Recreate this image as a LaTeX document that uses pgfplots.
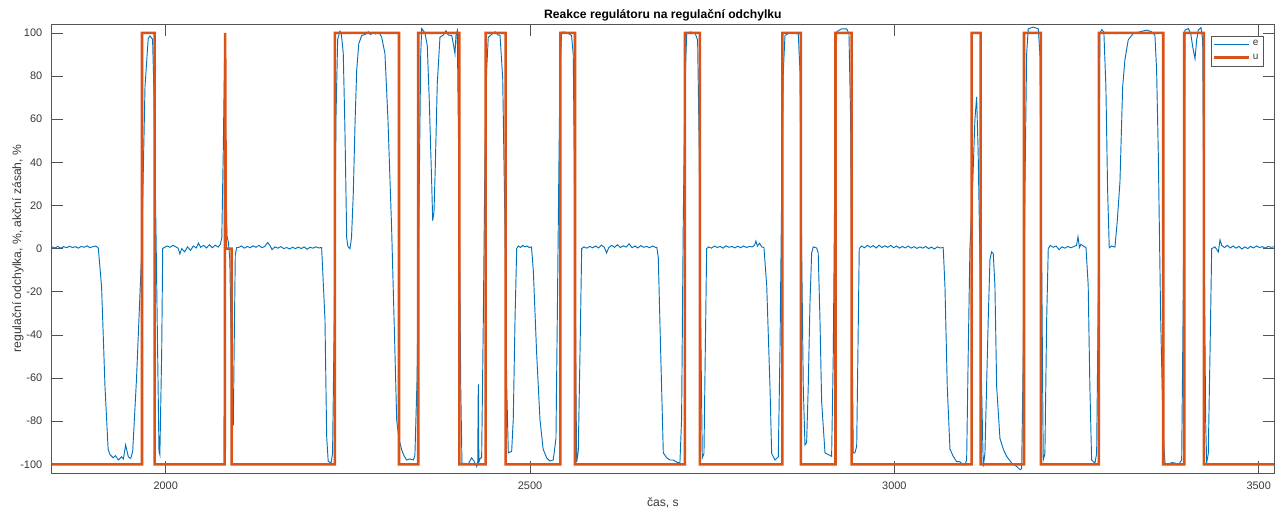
\documentclass[border=0pt]{standalone}
\usepackage{fontspec}
\setmainfont{Liberation Sans}
\usepackage{pgfplots}
\pgfplotsset{compat=1.18}
\definecolor{mblue}{rgb}{0,0.447,0.741}
\definecolor{morange}{rgb}{0.85,0.325,0.098}
\definecolor{txtgray}{rgb}{0.22,0.22,0.22}
\definecolor{axgray}{rgb}{0.33,0.33,0.33}
\begin{document}
\begin{tikzpicture}
\useasboundingbox (-38.8pt,-27.75pt) rectangle (923.45pt,354.7pt);
\begin{axis}[
  at={(0,0)}, anchor=south west,
  scale only axis, width=916.7pt, height=336.5pt,
  xmin=1843.6, xmax=3521, ymin=-104, ymax=104,
  xtick={2000,2500,3000,3500},
  ytick={-100,-80,...,100},
  tick align=inside, tick pos=both,
  major tick length=8.6pt,
  axis line style={draw=axgray, line width=0.5pt},
  major tick style={draw=axgray, line width=0.5pt},
  /pgf/number format/assume math mode=true,
  /pgf/number format/set thousands separator={},
  tick label style={font=\fontsize{8.2}{9}\selectfont, text=txtgray},
  xticklabel style={anchor=base, yshift=-12.2pt},
  yticklabel style={anchor=east, xshift=-3.6pt},
  title={Reakce regulátoru na regulační odchylku},
  title style={at={(axis description cs:0.5,1)}, anchor=base, yshift=-1.5pt, font=\bfseries\fontsize{9.1}{10}\selectfont},
  xlabel={čas, s},
  xlabel style={at={(axis description cs:0.5,0)}, anchor=base, yshift=-25pt, font=\fontsize{9.1}{10}\selectfont, text=txtgray},
  ylabel={regulační odchylka, \%, akční zásah, \%},
  ylabel style={at={(axis description cs:0,0.5)}, anchor=base, yshift=23pt, font=\fontsize{9.1}{10}\selectfont, text=txtgray},
  legend style={at={(1,1)}, anchor=north east, xshift=-8pt, yshift=-8.5pt,
    draw=axgray, font=\fontsize{7.5}{8}\selectfont, text=txtgray,
    inner sep=1.5pt, row sep=0.5pt, cells={anchor=west}},
  legend image code/.code={\draw[#1] (0pt,0pt) -- (26pt,0pt);},
]
\addplot[mblue, line width=0.7pt] coordinates {
(1843.6,0.8)(1848,0.3)(1852,1.0)(1856,0.2)(1860,0.9)(1864,0.4)(1868,1.1)(1872,0.5)(1876,0.9)(1880,0.2)(1884,1.0)(1888,0.6)(1892,1.3)(1896,0.4)(1900,0.9)(1904,1.2)(1907.5,0.3)
(1912,-17.6)(1916.7,-64)(1921,-93)(1923.5,-95.5)(1928,-97)(1931,-96)(1935,-98)(1939.6,-96.5)(1942,-97.5)(1945,-91)(1948.7,-96.5)(1952,-97.3)(1954.7,-94)
(1960,-60)(1967,-2)(1971.6,75)(1976,97.4)(1978.5,98.6)(1982,97)(1984,71)(1987,0)(1990.8,-94)(1992,-95.5)(1994.5,-48)(1995.9,0)
(1998,0.5)(2002,1.2)(2006,0.6)(2010,1.5)(2014,0.8)(2017,0.2)(2019.5,-2.5)(2022,0)(2026,-1.5)(2030,0.8)(2034,-0.8)(2038,1.2)(2042,0.3)(2045,2.5)(2048,0.6)(2052,1.5)(2056,0.3)(2060,1.8)(2064,0.4)(2068,1.6)(2072,0.7)(2075,2)
(2077,5)(2079,45)(2081,95)(2082.5,40)(2084,6)(2086,3)(2088,-5)(2090,-45)(2092.8,-82)(2094,-45)(2095.5,-3)(2097.4,0.5)
(2100,0.5)(2104,1.2)(2108,0.2)(2112,1.0)(2116,0.4)(2120,1.3)(2124,0.6)(2128,1.5)(2132,0.4)(2136,1.0)(2140,2.8)(2143,1.5)(2146,-0.5)(2150,0.8)(2154,0.2)(2158,0.9)(2162,0)(2166,0.5)(2170,-0.2)(2174,0.6)(2178,0)(2182,0.7)(2186,0)(2190,0.8)(2194,-0.3)(2198,0.6)(2202,0.2)(2206,0.8)(2210,0.3)(2214,0.5)
(2218.6,-33)(2220.9,-87)(2223,-98.5)(2226.9,-99.5)(2229,-95)(2231.4,-31)(2233.7,61)(2236,97)(2239.2,100.8)(2241,99.5)(2243.7,90.4)(2246,55)(2248.4,5)(2250,1)(2252.9,0)(2255,5)(2257.4,25)(2260,60)(2262.1,82.6)(2265,95)(2269,98.8)
(2275,99.5)(2278,100.5)(2281,99.2)(2285,100.2)(2288,99.5)(2291,100.3)(2294,99.5)(2296.4,98)(2300.9,90.4)(2305,60)(2310,10)(2314,-40)(2317,-79.4)(2320,-88)(2323.9,-93.3)(2327,-96)(2330.7,-98)(2335,-97.5)(2339.8,-98)(2342,-96)(2345,-60)(2348,30)(2350,90)(2351.3,102)
(2355.8,100)(2359,94)(2361.7,69)(2365,31)(2366.4,13)(2368.2,17)(2370,38)(2372.7,76.5)(2376.4,98)(2381,99)(2384.6,101)(2387.8,99)(2392.5,98.8)(2394.7,95)(2397,90.4)(2398.4,99)(2400.2,101)(2403,13)(2404.9,-64)(2406.6,-99.6)
(2410,-99.5)(2415,-100)(2419.9,-97)(2423,-98.5)(2426.8,-101)(2428.2,-99)(2429,-63)(2429.8,-99)(2432,-97)(2433.6,-97)(2435.9,-33)(2438.2,44.6)(2440.5,83)(2442.7,98)(2448,99.5)(2452,100.5)(2456,99)(2458.8,99)
(2462.5,79)(2465.6,11)(2468,-64)(2470.2,-94.7)(2474.8,-94)(2477,-79)(2479.4,-33)(2481.7,0)
(2484,1.2)(2487,0.5)(2490,1.5)(2493,0.8)(2496,1.2)(2499,0.5)(2502,0.8)
(2504.5,-10)(2509,-48)(2513.6,-79)(2518,-93)(2522.8,-97)(2527.4,-98.5)(2531.9,-98)(2535.6,-88)(2537.4,-33)(2539.3,28)(2541.1,82)(2543.4,100.4)(2548,100.4)(2552.5,99.7)(2557,98.8)(2559.3,90)(2560.7,44)(2562,-17)(2563,-63)(2564,-99)(2566.2,-94)(2568.6,-48)(2570.9,0)
(2574,0.8)(2578,0.2)(2582,1.0)(2586,0.4)(2590,1.2)(2594,0.3)(2598,1.6)(2602,0.6)(2605,-2)(2608,0.4)(2612,1.5)(2616,0.6)(2620,1.8)(2624,0.5)(2628,1.3)(2632,0.7)(2636,2.2)(2640,0.4)(2644,1.2)(2648,0.3)(2652,1.4)(2656,0.6)(2660,1.0)(2664,0.4)(2668,1.2)(2672,0.6)(2674,0.5)
(2676,-4)(2679.3,-48)(2682.9,-94.7)(2687.5,-97)(2692,-98)(2696.6,-98)(2701.2,-99)(2705.7,-99.4)(2708,-79)(2710.3,13)(2712.6,75)(2715,99.7)(2719.5,100.4)(2726.4,100)(2730,96.6)(2732.3,44)(2734.2,-33)(2736.4,-97)(2738.7,-95)(2740.5,-48)(2742.4,0)
(2745,0.8)(2749,0.2)(2753,1.2)(2757,0.5)(2761,1.0)(2765,0.2)(2769,1.3)(2773,0.6)(2777,1.0)(2781,0.3)(2785,1.1)(2789,0.4)(2793,1.2)(2797,0.5)(2801,1.0)(2805,0.8)(2808,1.5)(2810,3.5)(2812,1.2)(2815,2.5)(2818,0.8)(2821,0.5)
(2824.8,-17)(2829.3,-64)(2831.6,-95)(2836.1,-98)(2840.7,-96.5)(2843,-48)(2845.4,28)(2847.6,82)(2849.9,98.8)(2854.4,99.7)(2859,100)(2863.6,99.7)(2868.1,99.7)(2870.5,82)(2872.8,-2)(2875,-64)(2877.3,-91)(2879.6,-90)(2881.8,-64)(2884.2,-25)(2886.5,-2)(2888.7,0.8)(2893.3,0.3)(2895.5,-2)
(2897.9,-33)(2900.2,-71)(2904.8,-94.7)(2909.3,-95.5)(2913.9,-96.3)(2916.2,-48)(2918.5,44.6)(2920.8,100.4)(2923,101)(2927.7,101.9)(2934.5,101.9)(2937.7,99.7)(2940,59.5)(2941.8,-33)(2943.6,-94.7)(2945.9,-94.7)(2948.3,-91.6)(2950,-48)(2951.8,0)
(2955,1.2)(2959,0.4)(2963,1.5)(2967,0.6)(2971,1.4)(2975,0.3)(2979,1.6)(2983,0.5)(2987,1.3)(2991,0.6)(2995,1.5)(2999,0.4)(3003,1.2)(3007,0.2)(3011,1.0)(3015,0.3)(3019,1.2)(3023,0.2)(3027,0.9)(3031,0.1)(3035,0.8)(3039,0.2)(3043,1.0)(3047,0)(3051,0.7)(3055,-0.2)(3059,0.8)(3063,0.3)(3067,0.5)
(3069.4,-17)(3072.6,-64)(3076.3,-93)(3080.8,-96.3)(3085.5,-98.8)(3090,-98.8)(3094.6,-100.3)(3096.9,-100.3)(3099.2,-98)(3101.4,-48)(3103.7,0)(3107.4,29)(3110.5,59.5)(3112.9,70.3)(3115,44.6)(3117.3,-1.5)(3119.7,-64)(3122,-101)(3124.3,-95)(3128.8,-33)(3131.2,-5)(3133.5,-1.5)(3135.7,-2.3)(3138,-17)(3140.4,-64)(3144.9,-88)(3149.5,-93)(3154.1,-96.3)(3161,-99.4)(3167.8,-101)(3172.3,-102.5)(3174.7,-102)
(3176.9,-48)(3179.2,28)(3181.5,90)(3183.7,101.9)(3190.6,102.7)(3197.5,101.9)(3199.8,90)(3202.1,-2)(3204.3,-98)(3206.6,-95)(3209,-33)(3211.2,0)
(3214,1.5)(3218,0.6)(3222,1.2)(3226,-0.5)(3230,0.8)(3234,0.2)(3238,1.0)(3242,0.4)(3246,0.9)(3250,1.5)(3252,5.5)(3254,0.5)(3256,2)(3260,1.0)(3263,0.5)
(3266,-17)(3268.3,-64)(3270.7,-98)(3275.3,-99.4)(3277.6,-95)(3280,-17)(3282.1,99.7)(3284.4,101.5)(3287.5,100.5)(3290.3,75)(3292.6,28)(3294.9,0.4)(3298.1,1.2)(3302.7,0.7)(3305.9,12.7)(3309.6,31)(3313.3,75)(3316.4,87.6)(3321,96.8)(3327.8,99.7)(3337,100.5)(3346.2,101.3)(3353.1,100.5)(3357.6,98.9)
(3359.9,82.6)(3362.2,44)(3365.5,-33)(3369,-87)(3371.4,-99.4)(3375.9,-100.3)(3380.6,-99.2)(3385.1,-99.4)(3389.7,-100.3)(3394.3,-98)(3396.6,-17)(3398.8,101.3)(3403.4,102)(3406.7,99.7)(3409.5,93.5)(3412.6,88)(3414.9,96.8)(3417.1,101.3)(3420.8,102.5)(3423.1,96.8)(3424.9,13)(3427.2,-79.5)(3428.6,-99.4)(3430.8,-95)(3433.2,-48)(3435.5,0)
(3440,0.8)(3444.6,-1.5)(3446.9,4)(3449.2,1.5)(3453,0.5)(3457,1.5)(3461,0.3)(3465,1.2)(3469,0.2)(3473,1.0)(3477,-0.2)(3481,0.8)(3485,0)(3489,1.0)(3493,0.3)(3497,1.2)(3501,0.5)(3505,0.9)(3509,0.2)(3513,1.0)(3517,0.6)(3521,0.8)
};
\addlegendentry{e}
\addplot[morange, line width=1.9pt, line join=miter] coordinates {
(1843.6,-100)(1967.5,-100)(1967.5,100)(1984.9,100)(1984.9,-100)(2081,-100)(2081.6,100)(2082.5,0)(2090.6,0)(2090.6,-100)
(2232.3,-100)(2232.3,100)(2320.2,100)(2320.2,-100)(2346.6,-100)(2346.6,100)(2402.9,100)(2402.9,-100)(2439.1,-100)(2439.1,100)(2466.6,100)(2466.6,-100)
(2541.5,-100)(2541.5,100)(2561.7,100)(2561.7,-100)(2712.6,-100)(2712.6,100)(2733.2,100)(2733.2,-100)(2846.2,-100)(2846.2,100)(2871.8,100)(2871.8,-100)
(2919.2,-100)(2919.2,100)(2941.4,100)(2941.4,-100)(3106.1,-100)(3106.1,100)(3118.4,100)(3118.4,-100)(3177.9,-100)(3177.9,100)(3201.2,100)(3201.2,-100)
(3280.8,-100)(3280.8,100)(3369,100)(3369,-100)(3397.8,-100)(3397.8,100)(3424.9,100)(3424.9,-100)(3521,-100)
};
\addlegendentry{u}
\end{axis}
\end{tikzpicture}
\end{document}
